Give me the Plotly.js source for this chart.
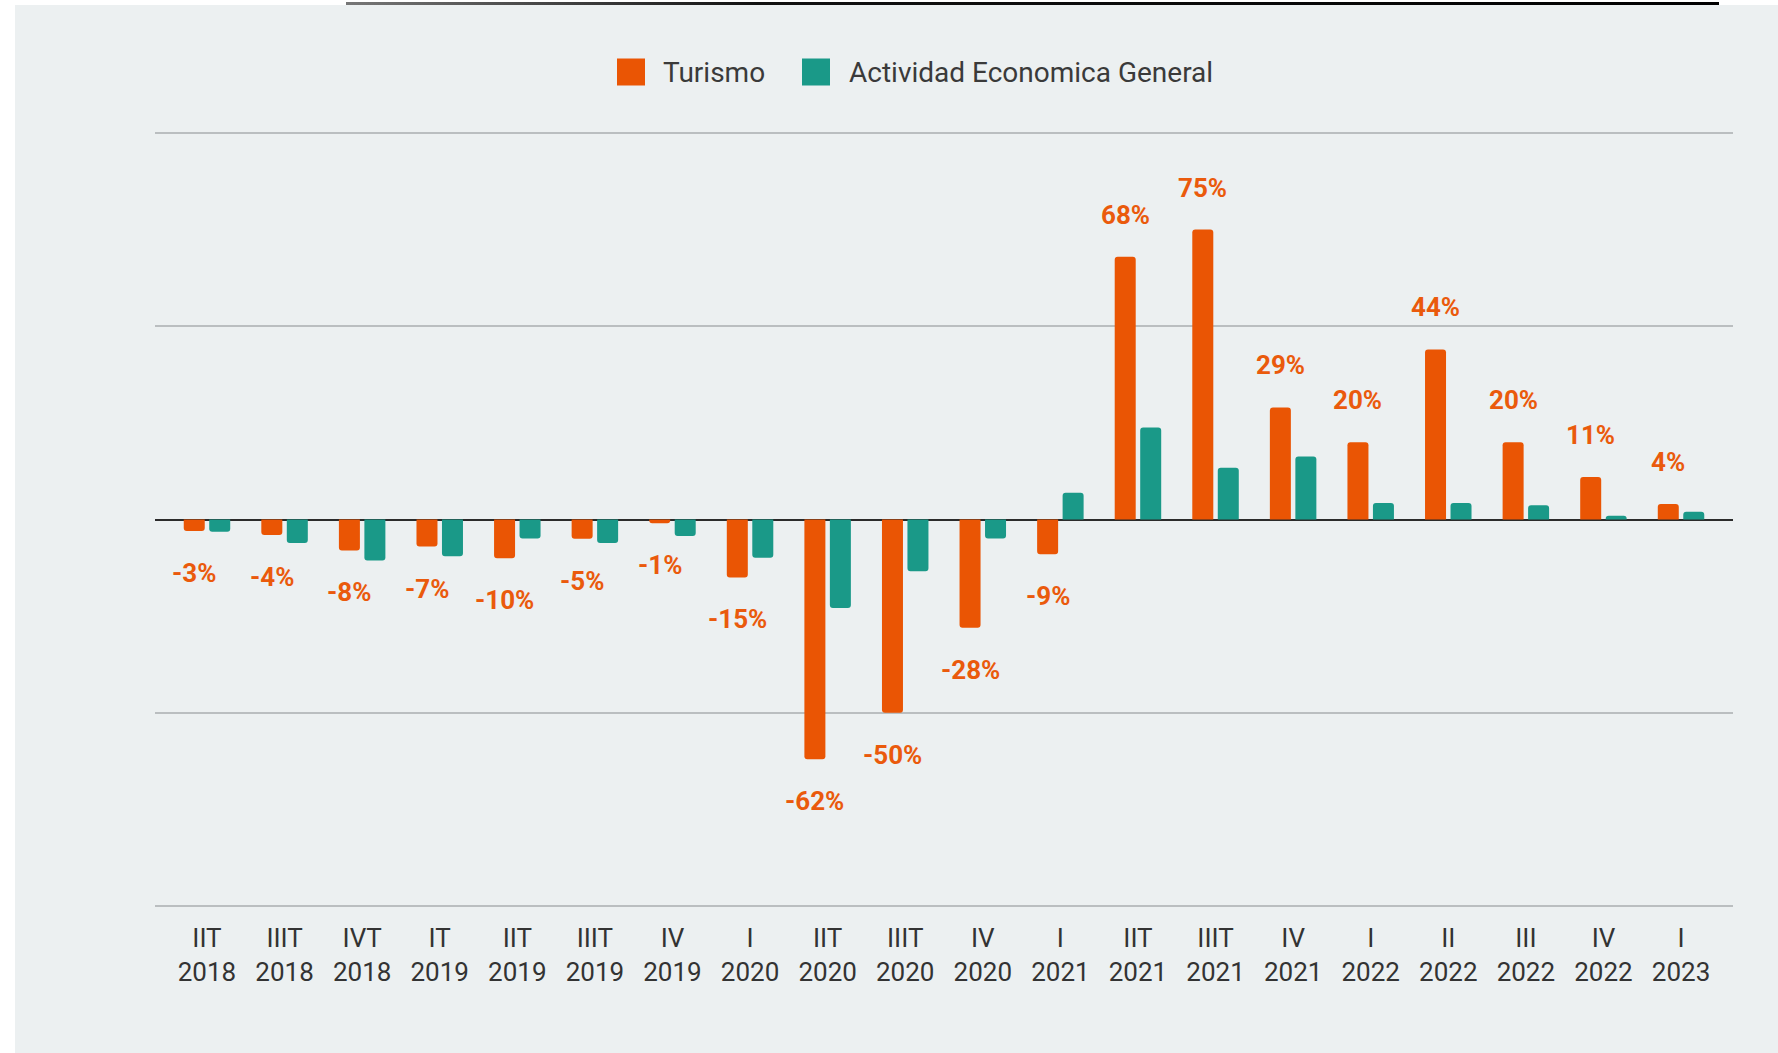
<!DOCTYPE html>
<html>
<head>
<meta charset="utf-8">
<script src="https://cdn.plot.ly/plotly-3.0.1.min.js"></script>
<style>
  html, body { margin: 0; padding: 0; background: #ffffff; width: 1778px; height: 1053px; overflow: hidden; }
  #topline { position: absolute; left: 346px; top: 2px; width: 1373px; height: 3px;
             background: linear-gradient(to right, #777 0%, #111 30%, #000 100%); }
  #chart { position: absolute; left: 15px; top: 5px; width: 1763px; height: 1048px; }
</style>
</head>
<body>
<div id="topline"></div>
<div id="chart"></div>
<script>
// ---- data ----
const quarters = ["IIT","IIIT","IVT","IT","IIT","IIIT","IV","I","IIT","IIIT","IV","I","IIT","IIIT","IV","I","II","III","IV","I"];
const years    = ["2018","2018","2018","2019","2019","2019","2019","2020","2020","2020","2020","2021","2021","2021","2021","2022","2022","2022","2022","2023"];
const turismo  = [-3, -4, -8, -7, -10, -5, -1, -15, -62, -50, -28, -9, 68, 75, 29, 20, 44, 20, 11, 4];
const actividad = [-3.2, -6.1, -10.6, -9.5, -4.9, -6.1, -4.3, -9.9, -22.9, -13.4, -4.9, 6.9, 23.8, 13.4, 16.3, 4.3, 4.3, 3.7, 1.0, 2.0];
const seriesNames = ["Turismo", "Actividad Economica General"];

// ---- styles ----
const ORANGE = "#EA5504";
const GREEN = "#1A9988";
const LABEL = "#EA5A0C";
const FONT = "Roboto, 'Open Sans', sans-serif";

const categories = quarters.map((q, i) => q + "<br>" + years[i]);

const W = 1763, H = 1048;
const M = { l: 140, r: 45, t: 126, b: 145 };
const plotW = W - M.l - M.r, plotH = H - M.t - M.b;
const XR = [-0.67, categories.length - 1 + 0.67];
const YR = [-100.5, 100.5];
const BARGAP = 0.343, GROUPGAP = 0.176;
const pxPerCat = plotW / (XR[1] - XR[0]);
const slot = pxPerCat * (1 - BARGAP) / 2;

const px2x = px => (px - M.l) / plotW;
const px2y = py => 1 - (py - M.t) / plotH;

const traces = [
  { type: "bar", name: seriesNames[0], x: categories, y: turismo,
    marker: { color: ORANGE, cornerradius: 3 }, showlegend: false, hoverinfo: "skip" },
  { type: "bar", name: seriesNames[1], x: categories, y: actividad,
    marker: { color: GREEN, cornerradius: 3 }, showlegend: false, hoverinfo: "skip" }
];

const annotations = turismo.map((v, i) => ({
  x: categories[i], y: v, xref: "x", yref: "y",
  text: v + "%", showarrow: false,
  xanchor: "center", yanchor: "middle",
  xshift: -slot / 2, yshift: v >= 0 ? 42 : -42,
  font: { family: FONT, size: 26, color: LABEL, weight: "bold" }
}));

// custom legend (div coordinates -> paper)
const legendItems = [
  { name: seriesNames[0], color: ORANGE, sx0: 602, sx1: 630, tx: 646 },
  { name: seriesNames[1], color: GREEN, sx0: 787, sx1: 815, tx: 832 }
];
const legY0 = 53.5, legY1 = 80.5, legMid = 67;
const shapes = [];
legendItems.forEach(it => {
  shapes.push({ type: "rect", xref: "paper", yref: "paper",
    x0: px2x(it.sx0), x1: px2x(it.sx1), y0: px2y(legY1), y1: px2y(legY0),
    fillcolor: it.color, line: { width: 0 } });
  annotations.push({ xref: "paper", yref: "paper", x: px2x(it.tx), y: px2y(legMid),
    xanchor: "left", yanchor: "middle", showarrow: false, text: it.name,
    font: { family: FONT, size: 28, color: "#3a3a3a" } });
});

const layout = {
  width: W, height: H,
  margin: M,
  paper_bgcolor: "#ECF0F1",
  plot_bgcolor: "#ECF0F1",
  barmode: "group",
  bargap: BARGAP,
  bargroupgap: GROUPGAP,
  showlegend: false,
  xaxis: {
    type: "category", range: XR, showgrid: false, zeroline: false, showline: false,
    ticks: "", ticklabelstandoff: 12,
    tickfont: { family: FONT, size: 26, color: "#333333" }
  },
  yaxis: {
    range: YR, tick0: 0, dtick: 50, showticklabels: false, ticks: "",
    showgrid: true, gridcolor: "#BABEC0", gridwidth: 2,
    zeroline: true, zerolinecolor: "#2b2b2b", zerolinewidth: 2, showline: false
  },
  annotations: annotations,
  shapes: shapes
};

Plotly.newPlot("chart", traces, layout, { displayModeBar: false, staticPlot: true });
</script>
</body>
</html>
